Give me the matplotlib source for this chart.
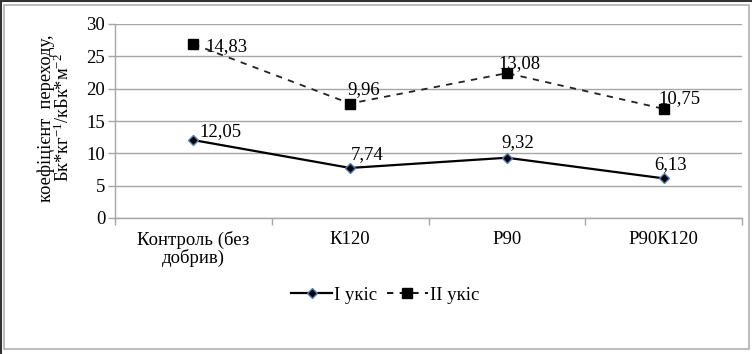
import numpy as np
import matplotlib
matplotlib.use('Agg')
from matplotlib import pyplot as plt
from matplotlib.lines import Line2D
from matplotlib.patches import Rectangle

plt.rcParams['font.family'] = ['Liberation Serif', 'DejaVu Serif']
plt.rcParams['mathtext.fontset'] = 'custom'
plt.rcParams['mathtext.rm'] = 'Liberation Serif'
plt.rcParams['mathtext.it'] = 'Liberation Serif:italic'

categories = ['Контроль (без\nдобрив)', 'К120', 'Р90', 'Р90К120']
cut_1 = [12.05, 7.74, 9.32, 6.13]
cut_2 = [14.83, 9.96, 13.08, 10.75]
labels_1 = ['12,05', '7,74', '9,32', '6,13']
labels_2 = ['14,83', '9,96', '13,08', '10,75']
series_names = ['I укіс', 'II укіс']

FS = 13.5
W, H = 752, 354
fig = plt.figure(figsize=(W / 100, H / 100), dpi=100)
ax = fig.add_axes([115 / W, 1 - 218 / H, (742 - 115) / W, (218 - 24) / H])

x = np.arange(len(categories))
# stacked line chart: second series sits on top of the first
stack_2 = np.array(cut_1) + np.array(cut_2)

grid_c = '#a6a6a6'
ax.plot(x, cut_1, color='black', lw=1.6, marker='D', ms=5,
        mfc='black', mec='#4f81bd', mew=1.0, zorder=4)
ax.plot(x, stack_2, color='#222222', lw=1.3, ls=(0, (3.5, 3.5)), marker='s', ms=7,
        mfc='black', mec='black', zorder=4)

# data labels (manually placed, like in the source chart)
off_1 = [(19.5, 6), (12, 9.4), (8, 10.6), (5, 10)]
off_2 = [(23.5, -1.5), (10, 9.7), (9.4, 7), (11.5, 7.5)]
for i in range(len(categories)):
    ax.annotate(labels_1[i], (x[i], cut_1[i]), xytext=off_1[i], textcoords='offset points',
                ha='center', va='center', fontsize=FS)
    ax.annotate(labels_2[i], (x[i], stack_2[i]), xytext=off_2[i], textcoords='offset points',
                ha='center', va='center', fontsize=FS)

ax.set_xlim(-0.5, len(categories) - 0.5)
ax.set_ylim(0, 30)
ax.set_yticks(np.arange(0, 31, 5))
ax.set_xticks(x)
ax.set_xticklabels(categories, fontsize=FS, linespacing=1.0)
ax.set_xticks(np.arange(-0.5, len(categories), 1), minor=True)
ax.tick_params(axis='x', which='major', length=0, pad=9)
ax.tick_params(axis='x', which='minor', length=5, color=grid_c, width=1)
ax.tick_params(axis='y', length=5, color=grid_c, width=1, labelsize=FS, pad=2)
ax.yaxis.grid(True, color=grid_c, lw=1)
ax.set_axisbelow(True)
for s in ['top', 'right']:
    ax.spines[s].set_visible(False)
for s in ['left', 'bottom']:
    ax.spines[s].set_color(grid_c)
    ax.spines[s].set_linewidth(1)

fig.text(55 / W, 1 - 118 / H, 'коефіцієнт  переходу,\nБк*кг$^{-1}$/кБк*м$^{-2}$',
         rotation=90, ha='center', va='center', fontsize=13.2, linespacing=0.9)

handles = [
    Line2D([], [], color='black', lw=1.6, marker='D', ms=5, mfc='black', mec='#4f81bd'),
    Line2D([], [], color='black', lw=1.3, ls=(0, (3.5, 3.5)), marker='s', ms=7, mfc='black'),
]
fig.legend(handles, series_names, loc='center', bbox_to_anchor=(385 / W, 1 - 295 / H),
           ncol=2, frameon=False, fontsize=FS, handlelength=2.2, handletextpad=0.1,
           columnspacing=0.5)

# chart area border
fig.patches.append(Rectangle((4 / W, 5 / H), 745 / W, 344 / H, transform=fig.transFigure,
                             fill=False, ec='#b0b0b0', lw=1.2))
fig.add_artist(Line2D([1 / W, 1 / W], [0, 1 - 1 / H], transform=fig.transFigure,
                      color='#333333', lw=1.5))
fig.add_artist(Line2D([1 / W, 1], [1 - 1 / H, 1 - 1 / H], transform=fig.transFigure,
                      color='#333333', lw=1.5))

fig.savefig('out.png', dpi=100)
